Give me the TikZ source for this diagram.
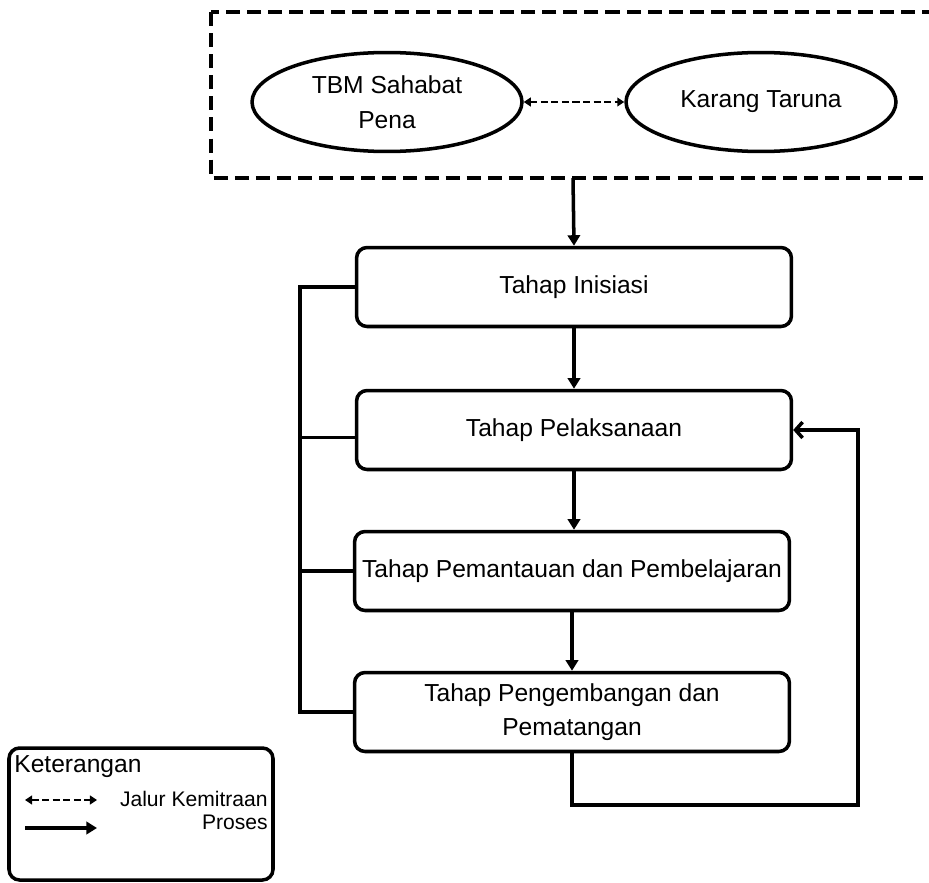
\documentclass[tikz,border=0pt]{standalone}
\usepackage{fontspec}
\setmainfont{Liberation Sans}
\usetikzlibrary{positioning,shapes.geometric,arrows.meta}

\tikzset{
    tahap/.style={draw, rounded corners=6pt, line width=2pt, minimum width=8.7cm,
        minimum height=1.58cm, align=center, font=\fontsize{14}{19}\selectfont},
    mitra/.style={draw, ellipse, line width=2pt, minimum width=5.4cm,
        minimum height=1.98cm, align=center, inner sep=0pt, font=\fontsize{14}{20}\selectfont},
    proses/.style={-{Triangle[length=6pt,width=7pt]}, line width=2pt},
    jalur/.style={{Triangle[length=4pt,width=5pt]}-{Triangle[length=4pt,width=5pt]},
        dash pattern=on 4pt off 2pt, line width=1.6pt},
    balik/.style={-{Straight Barb[length=4pt,width=9pt]}, line width=2pt},
    garis/.style={line width=2pt},
}

\begin{document}
\begin{tikzpicture}[x=0.02cm, y=-0.02cm]
        \useasboundingbox (0,0) rectangle (929,882);
        \clip (0,0) rectangle (929,882);

        % Kemitraan
        \draw[line width=2.2pt, dash pattern=on 8pt off 4pt] (211,12) rectangle (945,178);
        \node[mitra] (tbm) at (387,102) {TBM Sahabat\\Pena};
        \node[mitra] (karang) at (761,102) {Karang Taruna};
        \draw[jalur] (tbm) -- (karang);
        \coordinate (kotakbawah) at (573,178);

        % Tahapan
        \node[tahap] (inisiasi) at (574,287) {Tahap Inisiasi};
        \node[tahap] (pelaksanaan) at (574,430) {Tahap Pelaksanaan};
        \node[tahap] (pemantauan) at (572,571) {Tahap Pemantauan dan Pembelajaran};
        \node[tahap] (pengembangan) at (572,712) {Tahap Pengembangan dan\\Pematangan};

        \draw[proses] (kotakbawah) -- (inisiasi.north);
        \draw[proses] (inisiasi) -- (pelaksanaan);
        \draw[proses] (pelaksanaan.south) -- (pemantauan.north -| pelaksanaan.south);
        \draw[proses] (pemantauan) -- (pengembangan);

        % Garis kiri
        \coordinate (kiri) at (300,0);
        \coordinate (pelkiri) at ([yshift=-0.15cm]pelaksanaan.west);
        \draw[garis] (inisiasi.west) -| (kiri |- pengembangan.west) -- (pengembangan.west);
        \draw[garis] (pelkiri) -- (kiri |- pelkiri);
        \draw[garis] (pemantauan.west) -- (kiri |- pemantauan.west);

        % Umpan balik
        \coordinate (umpan) at (858,805);
        \draw[balik] (pengembangan.south) |- (umpan) |- (pelaksanaan.east);

        % Keterangan
        \draw[rounded corners=6pt, garis] (9,748) rectangle (273,880);
        \node[anchor=west, font=\fontsize{14}{16}\selectfont, inner sep=0pt] (ket) at (14,767) {Keterangan};
        \coordinate (j1) at (25,800);
        \coordinate (j2) at (97,800);
        \coordinate (p1) at (25,828);
        \coordinate (p2) at (97,828);
        \draw[jalur] (j1) -- (j2);
        \draw[proses] (p1) -- (p2);
        \node[anchor=east, font=\fontsize{12}{14}\selectfont, inner sep=0pt] (ketjalur) at (268,799) {Jalur Kemitraan};
        \node[anchor=east, font=\fontsize{12}{14}\selectfont, inner sep=0pt] (ketproses) at (268,822) {Proses};
    \end{tikzpicture}
\end{document}
